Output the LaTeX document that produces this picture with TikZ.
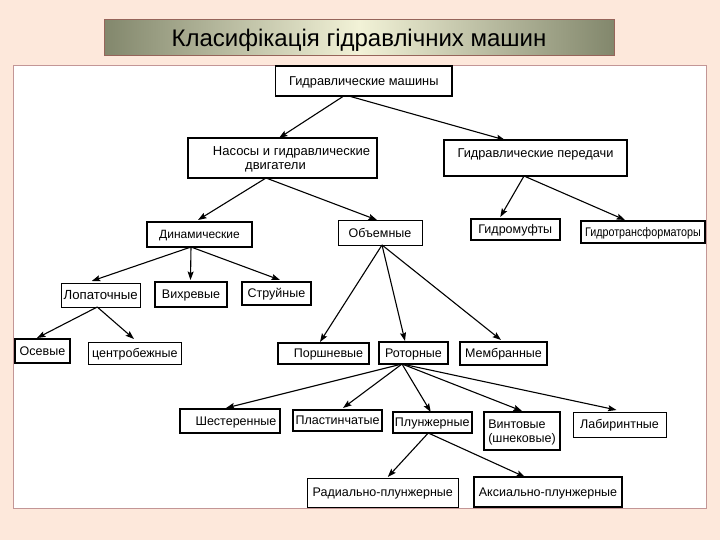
\documentclass[tikz,border=0pt]{standalone}
\usepackage{fontspec}
\setmainfont{Liberation Sans}
\usetikzlibrary{arrows.meta}
\definecolor{bgc}{RGB}{253,232,219}
\definecolor{panelborder}{RGB}{195,150,150}
\definecolor{titleborder}{RGB}{150,100,90}
\definecolor{titleedge}{RGB}{130,135,108}
\definecolor{titlemid}{RGB}{242,242,215}
\newcommand{\fs}[1]{\fontsize{#1}{#1}\selectfont}
\begin{document}
\begin{tikzpicture}[x=1pt,y=-1pt,
  box/.style={draw=black, line width=1pt, fill=white, inner sep=0pt, outer sep=0pt,
    align=center, font=\fs{12.5}, text height=9.6pt, text depth=0.65pt},
  tbox/.style={box, line width=2pt},
  arr/.style={-{Stealth[length=8.5pt,width=6pt,inset=1.5pt]}, line width=1.1pt, black}]
\fill[bgc] (0,0) rectangle (720,540);
\useasboundingbox (0,0) rectangle (720,540);
% panel
\draw[panelborder, fill=white, line width=0.7pt] (13.5,65.5) rectangle (706,508);
% title
\node[draw=titleborder, line width=1pt, minimum width=510pt, minimum height=36pt,
  inner sep=0pt, left color=titleedge, right color=titleedge, middle color=titlemid,
  font=\fs{24}, text height=18pt, text depth=0.8pt] (title) at (359,38) {Класифікація гідравлічних машин};
% level 0
\node[box, line width=1.6pt, minimum width=176.5pt, minimum height=30pt, font=\fs{12.8}] (m) at (363.75,81) {Гидравлические машины};
% level 1
\node[tbox, minimum width=189pt, minimum height=40pt, font=\fontsize{13}{14}\selectfont, text height=24pt, text depth=0.5pt] (nas) at (282.5,158) {\hspace*{18pt}Насосы и гидравлические\\двигатели\hspace*{14pt}};
\node[tbox, minimum width=183pt, minimum height=36pt, font=\fs{12.8}, text height=5pt, text depth=5pt] (per) at (535.5,158) {Гидравлические передачи};
% level 2
\node[tbox, minimum width=105pt, minimum height=25pt, font=\fs{12}] (din) at (199.5,234.5) {Динамические};
\node[box, minimum width=84pt, minimum height=24pt] (obj) at (380,233) {Объемные};
\node[tbox, minimum width=89.4pt, minimum height=21pt] (gm) at (515.3,229.5) {Гидромуфты};
\node[tbox, minimum width=124pt, minimum height=22pt] (gt) at (643,232) {\scalebox{0.86}[1]{Гидротрансформаторы}};
% level 3
\node[box, minimum width=78.5pt, minimum height=24pt, font=\fs{13.2}] (lop) at (100.75,295) {Лопаточные};
\node[tbox, minimum width=72pt, minimum height=25pt] (vih) at (191,294.5) {Вихревые};
\node[tbox, minimum width=69pt, minimum height=23pt] (str) at (276.5,293.5) {Струйные};
\node[tbox, minimum width=55pt, minimum height=24pt] (os) at (42.5,351) {Осевые};
\node[box, minimum width=92.4pt, minimum height=22pt] (cen) at (134.8,353) {центробежные};
\node[tbox, minimum width=91pt, minimum height=21pt] (por) at (323.5,353.5) {\hspace*{10pt}Поршневые};
\node[tbox, minimum width=69pt, minimum height=22pt] (rot) at (413.5,353) {Роторные};
\node[tbox, minimum width=87pt, minimum height=23pt] (mem) at (503.5,353.5) {Мембранные};
% level 4
\node[tbox, minimum width=100pt, minimum height=24pt] (shes) at (230,421) {\hspace*{12pt}Шестеренные};
\node[tbox, minimum width=89pt, minimum height=21pt] (plas) at (337.5,420.5) {Пластинчатые};
\node[tbox, minimum width=79.5pt, minimum height=21pt] (plun) at (432.25,422.5) {Плунжерные};
\node[tbox, minimum width=76pt, minimum height=38pt, align=left, font=\fontsize{12.5}{14}\selectfont, text height=22.5pt, text depth=0.5pt] (vint) at (522,431) {Винтовые\\(шнековые)};
\node[box, minimum width=93pt, minimum height=25pt] (lab) at (619.5,424.5) {Лабиринтные};
% level 5
\node[box, minimum width=150.4pt, minimum height=29pt] (rad) at (382.8,492.5) {Радиально-плунжерные};
\node[tbox, minimum width=148pt, minimum height=30pt] (aks) at (548,492) {Аксиально-плунжерные};
% arrows
\draw[arr] ([xshift=-20pt]m.south) -- ([xshift=-3.5pt]nas.north);
\draw[arr] ([xshift=-15pt]m.south) -- ([xshift=-30.5pt]per.north);
\draw[arr] ([xshift=-16.5pt]nas.south) -- ([xshift=-1.5pt,yshift=2pt]din.north);
\draw[arr] ([xshift=-16.5pt]nas.south) -- ([xshift=-3pt,yshift=1pt]obj.north);
\draw[arr] ([xshift=-11.5pt]per.south) -- ([xshift=-15pt,yshift=2pt]gm.north);
\draw[arr] ([xshift=-11.5pt]per.south) -- ([xshift=-18pt,yshift=1pt]gt.north);
\draw[arr] ([xshift=-8.5pt]din.south) -- ([xshift=-9pt,yshift=2pt]lop.north);
\draw[arr] ([xshift=-8.5pt]din.south) -- ([xshift=-0.5pt,yshift=2pt]vih.north);
\draw[arr] ([xshift=-8.5pt]din.south) -- ([xshift=3.5pt,yshift=2pt]str.north);
\draw[arr] ([xshift=-3.5pt]lop.south) -- ([xshift=-5.5pt,yshift=1pt]os.north);
\draw[arr] ([xshift=-3.5pt]lop.south) -- ([xshift=-0.8pt,yshift=3pt]cen.north);
\draw[arr] ([xshift=2pt]obj.south) -- ([xshift=-3.5pt,yshift=1pt]por.north);
\draw[arr] ([xshift=2pt]obj.south) -- ([xshift=-8.5pt,yshift=1pt]rot.north);
\draw[arr] ([xshift=2pt]obj.south) -- ([xshift=-2.5pt,yshift=2pt]mem.north);
\draw[arr] ([xshift=-11.5pt]rot.south) -- ([xshift=-4pt,yshift=1pt]shes.north);
\draw[arr] ([xshift=-11.5pt]rot.south) -- ([xshift=5.5pt,yshift=2pt]plas.north);
\draw[arr] ([xshift=-11.5pt]rot.south) -- ([xshift=-1.5pt]plun.north);
\draw[arr] ([xshift=-11.5pt]rot.south) -- ([xshift=0pt,yshift=1pt]vint.north);
\draw[arr] ([xshift=-11.5pt]rot.south) -- ([xshift=-3pt,yshift=2pt]lab.north);
\draw[arr] ([xshift=-4pt]plun.south) -- ([xshift=5pt,yshift=1pt]rad.north);
\draw[arr] ([xshift=-4pt]plun.south) -- ([xshift=-23pt]aks.north);
\end{tikzpicture}
\end{document}
